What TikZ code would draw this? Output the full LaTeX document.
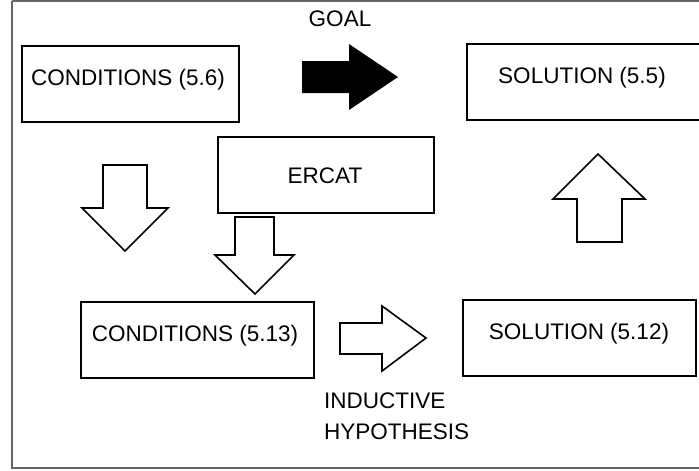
\documentclass[tikz,border=0pt]{standalone}
\usepackage{fontspec}
\setmainfont{Liberation Sans}
\begin{document}
\begin{tikzpicture}[x=1pt,y=-1pt,
  every node/.style={font=\fontsize{22.5}{30}\selectfont, inner sep=0pt},
  frame/.style={draw=black!60, line width=1.3pt},
  stepbox/.style={draw, line width=1.6pt, rectangle},
  hollow/.style={draw, line width=1.6pt, fill=white, line join=miter},
  solid/.style={fill=black}]
\useasboundingbox (0,0) rectangle (699,471);
% outer frame, its right side runs past the page edge
\draw[frame] (12,1) -- (730,1) (12,1) -- (12,468) -- (730,468);

% boxes
\draw[stepbox] (22,46) rectangle (239,122);
\node (c56) at (128,80) {CONDITIONS (5.6)};
\draw[stepbox] (467,44) rectangle (705,120);
\node (s55) at (582,78) {SOLUTION (5.5)};
\draw[stepbox] (218,137) rectangle (434,213);
\node (ercat) at (325,176) {ERCAT};
\draw[stepbox] (81,302) rectangle (314,378);
\node (c513) at (195,336) {CONDITIONS (5.13)};
\draw[stepbox] (463,300) rectangle (696,376);
\node (s512) at (579,334) {SOLUTION (5.12)};

% goal arrow
\fill[solid] (302,61) -- (349,61) -- (349,44) -- (398,77) -- (349,110) -- (349,93) -- (302,93) -- cycle;
\node (goal) at (340,19) {GOAL};

% block arrows
\draw[hollow] (103,165) -- (147,165) -- (147,208) -- (168,208) -- (125,251) -- (82,208) -- (103,208) -- cycle;
\draw[hollow] (235,217) -- (274,217) -- (274,255) -- (294,255) -- (255,294) -- (215,255) -- (235,255) -- cycle;
\draw[hollow] (340,323) -- (382,323) -- (382,306) -- (426,338) -- (382,371) -- (382,354) -- (340,354) -- cycle;
\draw[hollow] (577,242) -- (577,199) -- (553,199) -- (598,154) -- (645,199) -- (622,199) -- (622,242) -- cycle;

% label of the lower arrow
\node[anchor=west] (ind) at (324,401) {INDUCTIVE};
\node[anchor=west] (hyp) at (324,432) {HYPOTHESIS};
\end{tikzpicture}
\end{document}
